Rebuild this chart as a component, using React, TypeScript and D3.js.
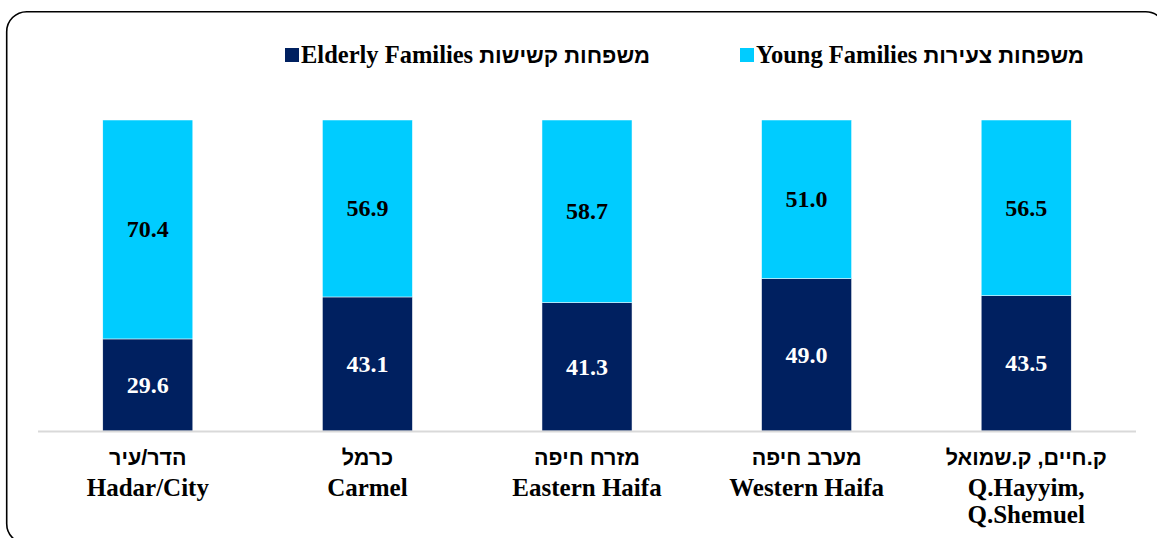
import React from "react";
import * as d3 from "d3";

const categoriesHe = ["הדר/עיר", "כרמל", "מזרח חיפה", "מערב חיפה", "ק.חיים, ק.שמואל"];
const categoriesEn = [["Hadar/City"], ["Carmel"], ["Eastern Haifa"], ["Western Haifa"], ["Q.Hayyim,", "Q.Shemuel"]];
const elderly = [29.6, 43.1, 41.3, 49.0, 43.5];
const young = [70.4, 56.9, 58.7, 51.0, 56.5];
const seriesNames = [
  { en: "Elderly Families", he: "משפחות קשישות" },
  { en: "Young Families", he: "משפחות צעירות" },
];

const W = 1157;
const H = 538;
const NAVY = "#002060";
const CYAN = "#00CCFF";
const SERIF = "'Liberation Serif', 'Times New Roman', serif";
const SANS = "'Liberation Sans', Arial, sans-serif";

export default function App() {
  const x = d3.scaleBand<number>().domain(d3.range(categoriesHe.length)).range([38, 1136]).paddingInner(0.59).paddingOuter(0.295);
  const y = d3.scaleLinear().domain([0, 100]).range([431, 120]);
  const colors = [NAVY, CYAN];
  const legendX = [285, 740];

  return (
    <svg width={W} height={H} style={{ position: "absolute", left: 0, top: 0 }}>
      <rect x={0} y={0} width={W} height={H} fill="#fff" />
      <rect x={6.7} y={11.7} width={1159} height={532} rx={20} ry={20} fill="none" stroke="#000" strokeWidth={1.6} />
      {seriesNames.map((s, i) => (
        <g key={i}>
          <rect x={legendX[i]} y={48} width={14} height={14} fill={colors[i]} />
          <text x={legendX[i] + 16} y={63} fontSize={24.5} fontWeight="bold" fill="#000" fontFamily={SERIF}>
            <tspan>{s.en + " "}</tspan>
            <tspan fontFamily={SANS} fontSize={22}>{s.he}</tspan>
          </text>
        </g>
      ))}
      {categoriesHe.map((c, i) => {
        const bx = x(i)!;
        const bw = x.bandwidth();
        const e = elderly[i];
        const yv = young[i];
        const cx = bx + bw / 2;
        return (
          <g key={i}>
            <rect x={bx} y={y(e)} width={bw} height={y(0) - y(e)} fill={NAVY} stroke="#fff" strokeWidth={0.5} />
            <rect x={bx} y={y(e + yv)} width={bw} height={y(e) - y(e + yv)} fill={CYAN} stroke="#fff" strokeWidth={0.5} />
            <text x={cx} y={(y(0) + y(e)) / 2} textAnchor="middle" dominantBaseline="central" fontSize={24} fontWeight="bold" fill="#fff" fontFamily={SERIF}>
              {e.toFixed(1)}
            </text>
            <text x={cx} y={(y(e) + y(e + yv)) / 2} textAnchor="middle" dominantBaseline="central" fontSize={24} fontWeight="bold" fill="#000" fontFamily={SERIF}>
              {yv.toFixed(1)}
            </text>
            <text x={cx} y={465} textAnchor="middle" fontSize={21.5} fontWeight="bold" fill="#000" fontFamily={SANS} direction="rtl">
              {c}
            </text>
            {categoriesEn[i].map((l, j) => (
              <text key={j} x={cx} y={496 + j * 27} textAnchor="middle" fontSize={25} fontWeight="bold" fill="#000" fontFamily={SERIF}>
                {l}
              </text>
            ))}
          </g>
        );
      })}
      <line x1={38} x2={1136} y1={431.5} y2={431.5} stroke="#d9d9d9" strokeWidth={2} />
    </svg>
  );
}
